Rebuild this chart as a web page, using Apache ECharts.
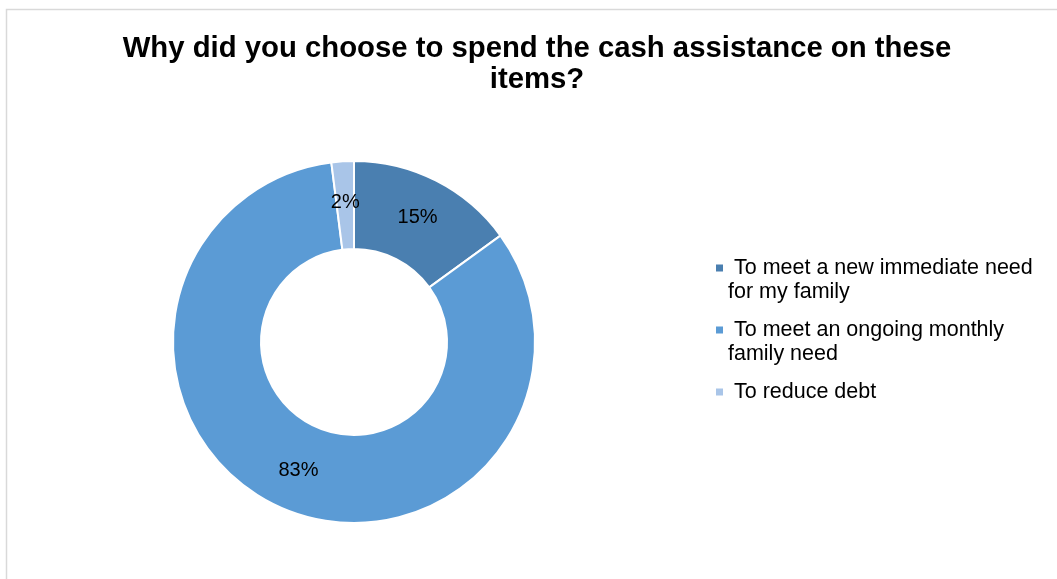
<!DOCTYPE html>
<html>
<head>
<meta charset="utf-8">
<script src="https://cdn.jsdelivr.net/npm/echarts@6/dist/echarts.min.js"></script>
<style>
html, body { margin: 0; padding: 0; background: #fff; }
#main { width: 1057px; height: 579px; }
</style>
</head>
<body>
<div id="main"></div>
<script>
// data
var categories = ['To meet a new immediate need for my family', 'To meet an ongoing monthly family need', 'To reduce debt'];
var legendText = [' To meet a new immediate need\nfor my family', ' To meet an ongoing monthly\nfamily need', ' To reduce debt\n '];
var values = [15, 83, 2];
var colors = ['#4a7fb0', '#5b9bd5', '#a9c5e8'];

var chart = echarts.init(document.getElementById('main'));

// square at the first line of a two-line legend item
var iconPath = 'path://M0,8.5h7v7h-7z M0,0h0.001v0.001h-0.001z M0,48h0.001v0.001h-0.001z';

var pieData = [];
for (var i = 0; i < categories.length; i++) {
    pieData.push({name: categories[i], value: values[i], itemStyle: {color: colors[i]}});
}

var option = {
    backgroundColor: '#fff',
    title: {
        text: 'Why did you choose to spend the cash assistance on these\nitems?',
        left: 532,
        textAlign: 'center',
        top: 28,
        textStyle: {
            fontFamily: 'Liberation Sans, Arial, sans-serif',
            fontSize: 29.3,
            fontWeight: 'bold',
            lineHeight: 31,
            color: '#000'
        }
    },
    graphic: [{
        type: 'rect',
        shape: {x: 6.5, y: 9.5, width: 1200, height: 700},
        style: {fill: 'none', stroke: '#d9d9d9', lineWidth: 1.5},
        silent: true
    }],
    legend: {
        orient: 'vertical',
        left: 716,
        top: 256,
        padding: 0,
        itemGap: 14,
        itemWidth: 7,
        itemHeight: 48,
        itemTextGap: 5,
        icon: iconPath,
        itemStyle: {borderWidth: 0},
        data: categories,
        formatter: function (name) {
            return legendText[categories.indexOf(name)];
        },
        textStyle: {
            fontFamily: 'Liberation Sans, Arial, sans-serif',
            fontSize: 21.5,
            lineHeight: 24,
            color: '#000'
        }
    },
    series: [{
        type: 'pie',
        center: [354, 342],
        radius: [93, 181],
        startAngle: 90,
        clockwise: true,
        avoidLabelOverlap: false,
        itemStyle: {borderColor: '#fff', borderWidth: 2},
        label: {
            show: true,
            position: 'inside',
            formatter: '{c}%',
            fontFamily: 'Liberation Sans, Arial, sans-serif',
            fontSize: 20,
            color: '#000'
        },
        labelLine: {show: false},
        emphasis: {disabled: true},
        data: pieData
    }]
};

chart.setOption(option);
</script>
</body>
</html>
